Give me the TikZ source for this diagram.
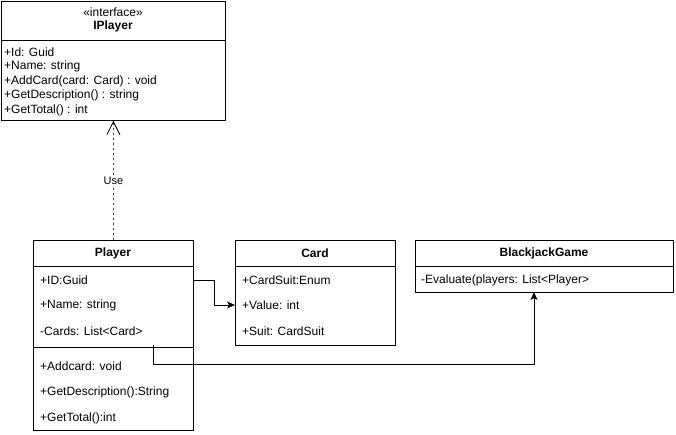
\documentclass[tikz,border=0pt]{standalone}
\usepackage{fontspec}
\setmainfont{Liberation Sans}
\usetikzlibrary{arrows.meta}
\begin{document}
\begin{tikzpicture}[x=1pt,y=-1pt,
  box/.style={draw, line width=0.8pt, inner sep=0pt, anchor=north west},
  rowtxt/.style={anchor=west, inner sep=0pt, font=\fontsize{12}{14}\selectfont},
  ttl/.style={anchor=center, inner sep=0pt, font=\fontsize{12}{14}\selectfont\bfseries},
  sep/.style={line width=0.8pt},
  conn/.style={line width=0.8pt},
  assoc/.style={conn, -{Stealth[length=8pt,width=7pt,inset=2pt]}},
  realz/.style={conn, draw=black!75, dash pattern=on 2.5pt off 2.5pt, -{Straight Barb[length=13pt,width=13pt,color=black]}}
]
\useasboundingbox (0,0) rectangle (676,434);
% IPlayer
\node[box, minimum width=224pt, minimum height=119pt] (ip) at (1,1) {};
\draw[sep] (1,40) -- (225,40);
\node[anchor=center, inner sep=0pt, font=\fontsize{12}{14}\selectfont] (ipst) at (113,12) {«interface»};
\node[ttl] (ipt) at (113,26) {IPlayer};
\node[rowtxt] (ip1) at (4,52) {+Id: Guid};
\node[rowtxt] (ip2) at (4,66.5) {+Name: string};
\node[rowtxt] (ip3) at (4,81) {+AddCard(card: Card) : void};
\node[rowtxt] (ip4) at (4,95.5) {+GetDescription() : string};
\node[rowtxt] (ip5) at (4,110) {+GetTotal() : int};
% Player
\node[box, minimum width=160pt, minimum height=190pt] (pl) at (33,240) {};
\draw[sep] (33,266) -- (193,266);
\draw[sep] (33,347) -- (193,347);
\node[ttl] (plt) at (113,253) {Player};
\node[rowtxt] (pl1) at (40,280) {+ID:Guid};
\node[rowtxt] (pl2) at (40,305) {+Name: string};
\node[rowtxt] (pl3) at (40,331) {-Cards: List<Card>};
\node[rowtxt] (pl4) at (40,366) {+Addcard: void};
\node[rowtxt] (pl5) at (40,392) {+GetDescription():String};
\node[rowtxt] (pl6) at (40,418) {+GetTotal():int};
% Card
\node[box, minimum width=160pt, minimum height=105pt] (cd) at (235,240) {};
\draw[sep] (235,266) -- (395,266);
\node[ttl] (cdt) at (315,253) {Card};
\node[rowtxt] (cd1) at (242,280) {+CardSuit:Enum};
\node[rowtxt] (cd2) at (242,305) {+Value: int};
\node[rowtxt] (cd3) at (242,331) {+Suit: CardSuit};
% BlackjackGame
\node[box, minimum width=258pt, minimum height=52pt] (bj) at (415,240) {};
\draw[sep] (415,266) -- (673,266);
\node[ttl] (bjt) at (544,253) {BlackjackGame};
\node[rowtxt] (bj1) at (421,280) {-Evaluate(players: List<Player>};
% connectors
\draw[realz] (pl.north) -- node[fill=white, inner sep=1.5pt, font=\fontsize{11}{13}\selectfont, text=black] (use) {Use} (ip.south);
\draw[assoc] (pl.east |- pl1) -- ++(21,0) |- (cd.west |- cd2);
\coordinate (cstart) at (153,345);
\coordinate (bjin) at (534,292);
\draw[assoc] (cstart) -- (153,364) -| (bjin);
\end{tikzpicture}
\end{document}
